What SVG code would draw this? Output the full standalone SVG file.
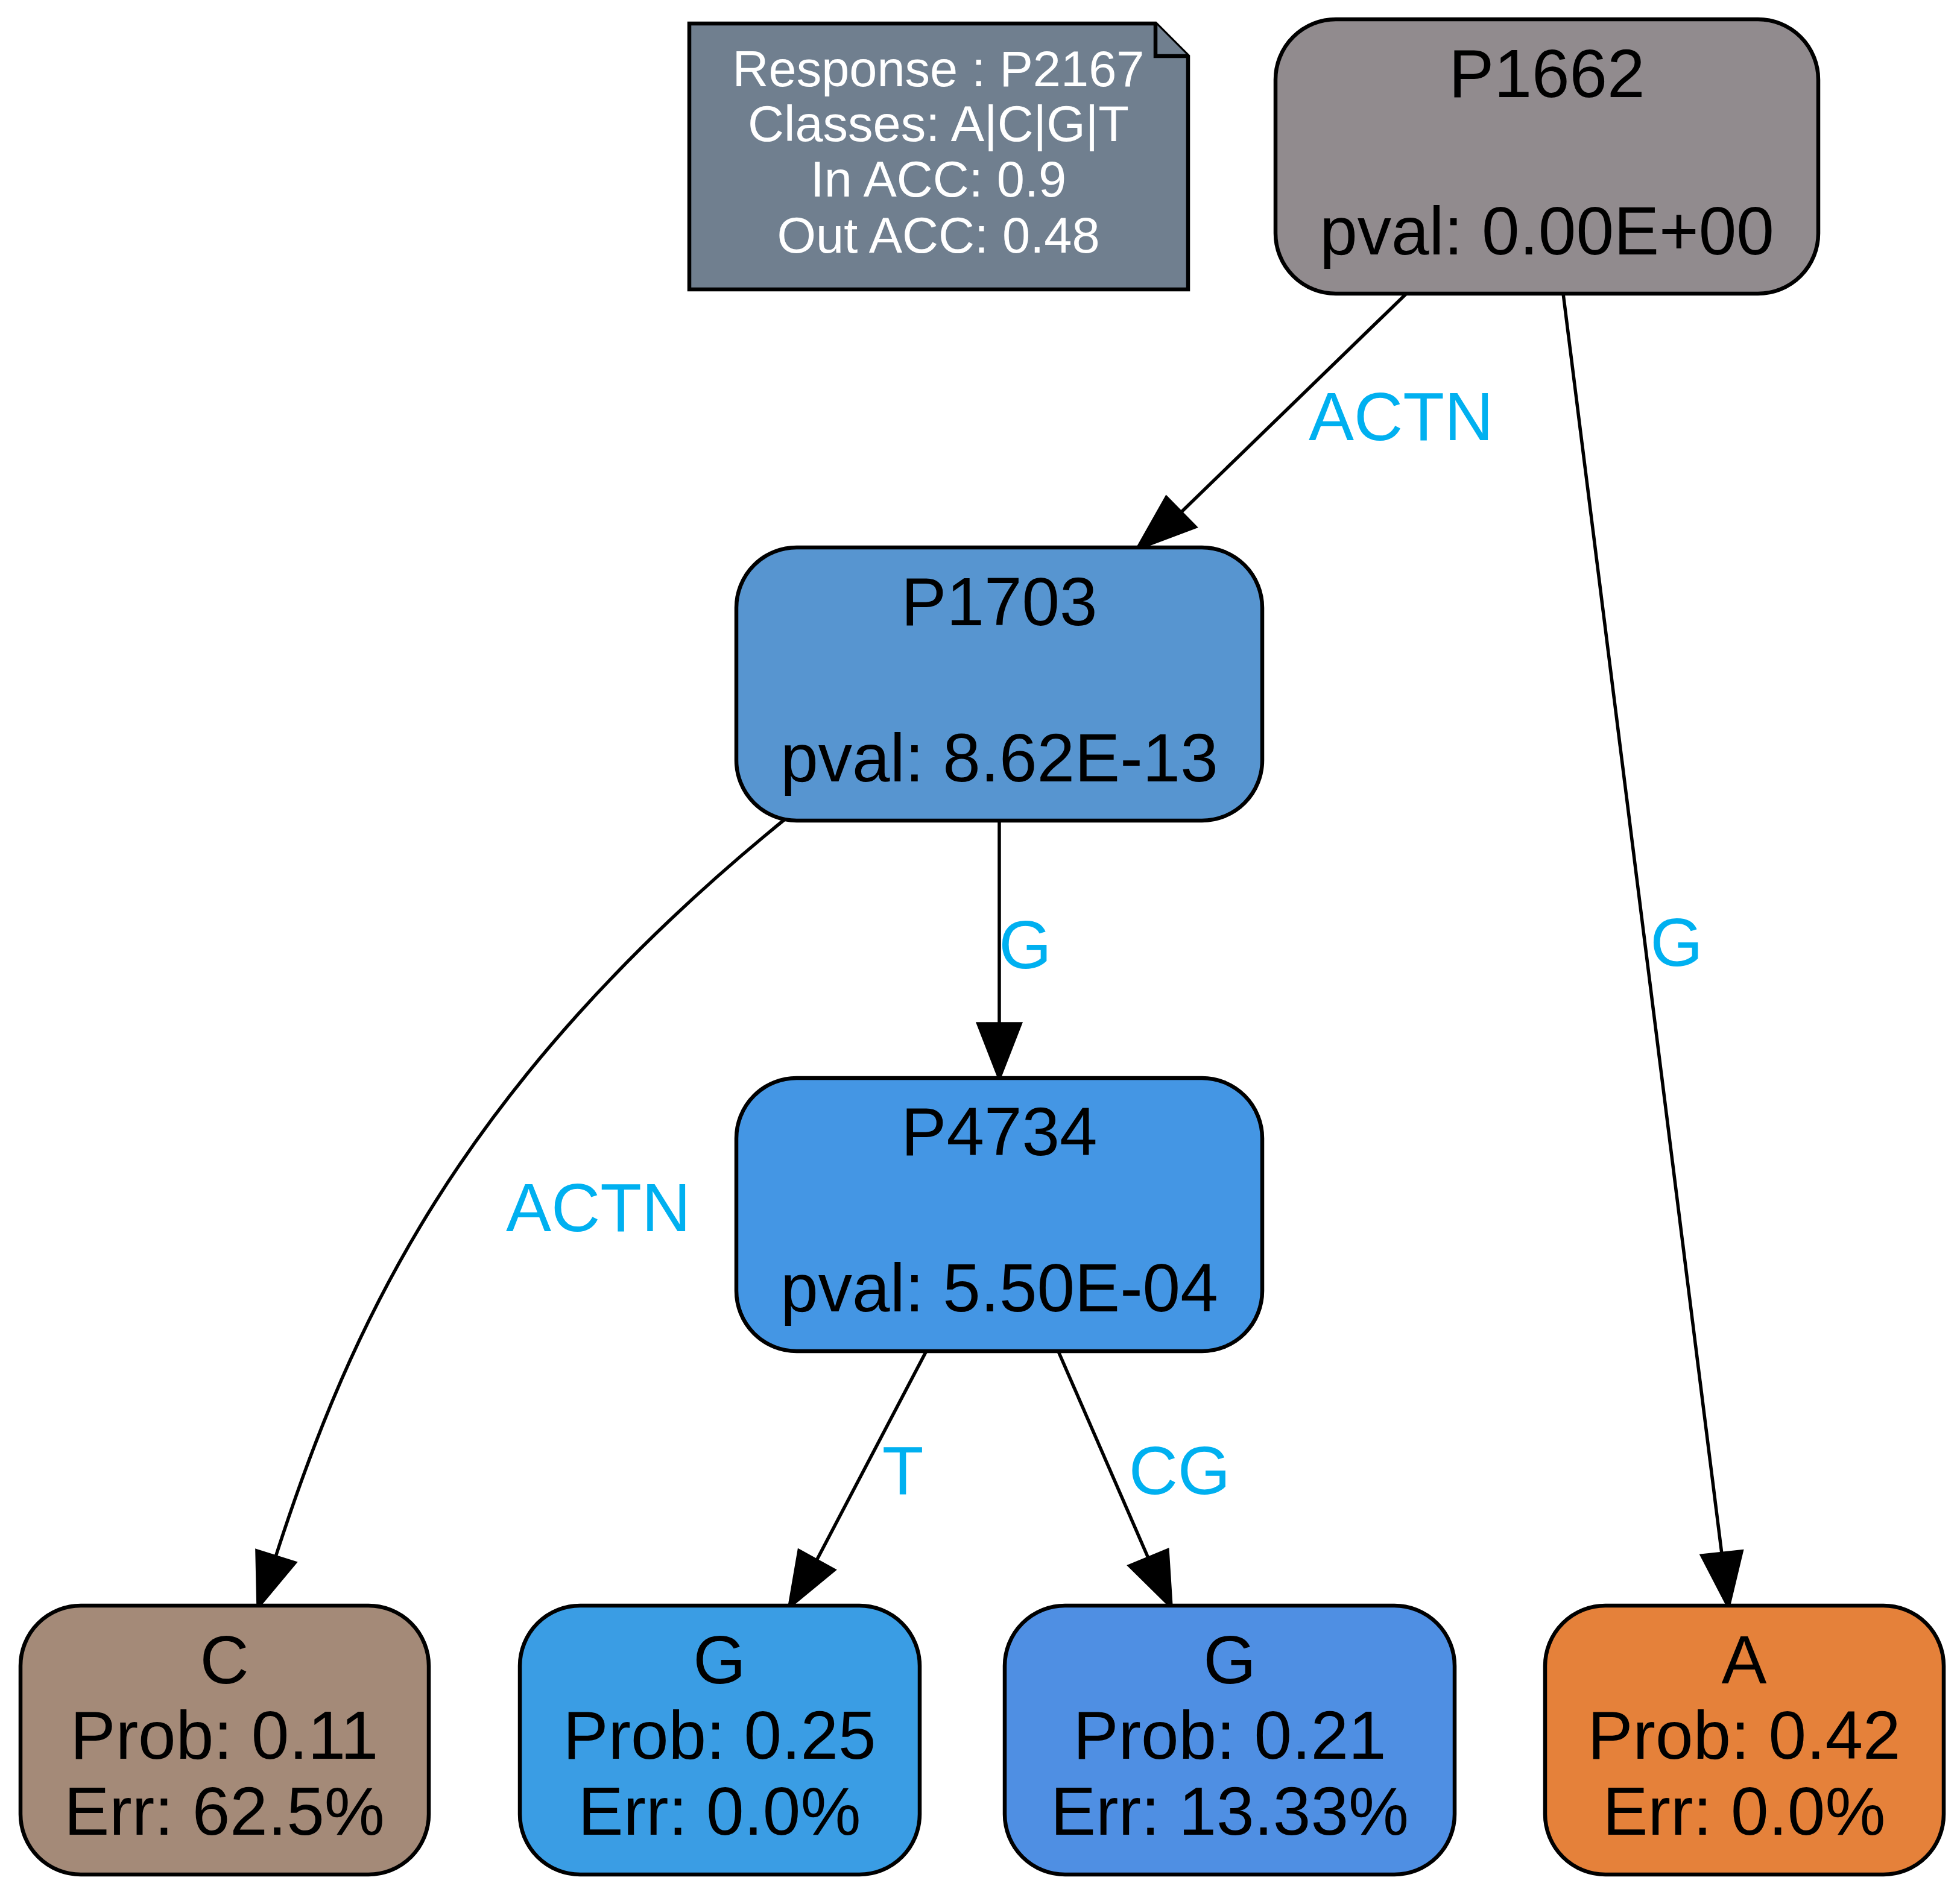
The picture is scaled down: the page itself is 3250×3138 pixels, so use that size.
<svg xmlns="http://www.w3.org/2000/svg" width="3250" height="3138" viewBox="0 0 3250 3138">
<style>
.n{stroke:#000;stroke-width:6.5}
.t{font-family:"Liberation Sans",Arial,Helvetica,sans-serif;font-size:112.5px;text-anchor:middle;fill:#000}
.nt{font-family:"Liberation Sans",Arial,Helvetica,sans-serif;font-size:83px;text-anchor:middle;fill:#fff}
.el{font-family:"Liberation Sans",Arial,Helvetica,sans-serif;font-size:112.5px;text-anchor:middle;fill:#00b0f0}
.e{fill:none;stroke:#000;stroke-width:5.5}
.ah{fill:#000;stroke:#000;stroke-width:5.5}
</style>
<rect width="3250" height="3138" fill="#fff"/>
<g id="legend">
<polygon class="n" fill="#707f8f" points="1143,39 1916,39 1970,93 1970,480 1143,480"/>
<polyline class="n" fill="#707f8f" points="1916,39 1916,93 1970,93"/>
<text class="nt" x="1556" y="143">Response : P2167</text>
<text class="nt" x="1556" y="234">Classes: A|C|G|T</text>
<text class="nt" x="1556" y="326">In ACC: 0.9</text>
<text class="nt" x="1556" y="419">Out ACC: 0.48</text>
</g>
<g id="connectors">
<g id="e_P1662_P1703">
<path class="e" d="M2332,487 L1958,850"/>
<polygon class="ah" points="1934,825 1982,874 1886,910"/>
<text class="el" x="2323" y="730">ACTN</text>
</g>
<g id="e_P1662_A">
<path class="e" d="M2592,487 L2855,2577"/>
<polygon class="ah" points="2822,2580 2888,2573 2866,2665"/>
<text class="el" x="2780" y="1602">G</text>
</g>
<g id="e_P1703_P4734">
<path class="e" d="M1657,1361 L1657,1698"/>
<polygon class="ah" points="1622,1698 1692,1698 1657,1788"/>
<text class="el" x="1700" y="1606">G</text>
</g>
<g id="e_P1703_C">
<path class="e" d="M1300,1360 C760,1800 580,2200 457,2582"/>
<polygon class="ah" points="426,2572 489,2592 428,2665"/>
<text class="el" x="992" y="2042">ACTN</text>
</g>
<g id="e_P4734_G1">
<path class="e" d="M1538,2237 L1354,2588"/>
<polygon class="ah" points="1325,2572 1383,2604 1309,2665"/>
<text class="el" x="1497" y="2478">T</text>
</g>
<g id="e_P4734_G2">
<path class="e" d="M1753,2237 L1904,2584"/>
<polygon class="ah" points="1873,2597 1936,2571 1942,2665"/>
<text class="el" x="1956" y="2478">CG</text>
</g>
</g>
<g id="P1662">
<rect class="n" x="2115" y="32" width="900" height="455" rx="100" ry="100" fill="#918b8e"/>
<text class="t" x="2565" y="161">P1662</text>
<text class="t" x="2565" y="422">pval: 0.00E+00</text>
</g>
<g id="P1703">
<rect class="n" x="1221" y="908" width="872" height="453" rx="100" ry="100" fill="#5795d0"/>
<text class="t" x="1657" y="1037">P1703</text>
<text class="t" x="1657" y="1296">pval: 8.62E-13</text>
</g>
<g id="P4734">
<rect class="n" x="1221" y="1788" width="872" height="453" rx="100" ry="100" fill="#4496e4"/>
<text class="t" x="1657" y="1916">P4734</text>
<text class="t" x="1657" y="2175">pval: 5.50E-04</text>
</g>
<g id="leaf_C">
<rect class="n" x="34" y="2663" width="677" height="446" rx="100" ry="100" fill="#a48a78"/>
<text class="t" x="372" y="2792">C</text>
<text class="t" x="372" y="2917">Prob: 0.11</text>
<text class="t" x="372" y="3043">Err: 62.5%</text>
</g>
<g id="leaf_G1">
<rect class="n" x="862" y="2663" width="663" height="446" rx="100" ry="100" fill="#3a9de4"/>
<text class="t" x="1193" y="2792">G</text>
<text class="t" x="1193" y="2917">Prob: 0.25</text>
<text class="t" x="1193" y="3043">Err: 0.0%</text>
</g>
<g id="leaf_G2">
<rect class="n" x="1666" y="2663" width="746" height="446" rx="100" ry="100" fill="#4f8fe3"/>
<text class="t" x="2039" y="2792">G</text>
<text class="t" x="2039" y="2917">Prob: 0.21</text>
<text class="t" x="2039" y="3043">Err: 13.33%</text>
</g>
<g id="leaf_A">
<rect class="n" x="2562" y="2663" width="661" height="446" rx="100" ry="100" fill="#e5813a"/>
<text class="t" x="2892" y="2792">A</text>
<text class="t" x="2892" y="2917">Prob: 0.42</text>
<text class="t" x="2892" y="3043">Err: 0.0%</text>
</g>
</svg>
